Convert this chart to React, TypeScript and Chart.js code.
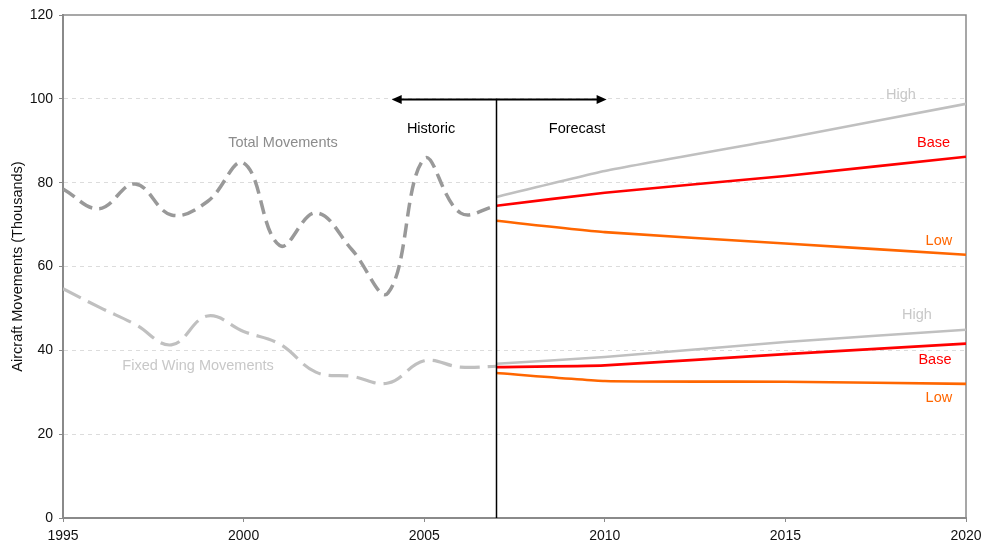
import React, { useEffect, useRef } from "react";
import { Chart, registerables } from "chart.js";

Chart.register(...registerables);

// Historic annual movements (thousands)
const historicYears = [1995, 1996, 1997, 1998, 1999, 2000, 2001, 2002, 2003, 2004, 2005, 2006, 2007];
const totalMovements = [78.5, 73.8, 79.7, 72.3, 75.5, 84.7, 65.0, 72.8, 64.0, 53.7, 85.7, 72.8, 74.5];
const fixedWingMovements = [54.7, 50.3, 46.2, 41.3, 48.2, 44.5, 41.5, 34.8, 33.8, 32.2, 37.5, 36.0, 36.2];

// Forecast scenarios
const forecastYears = [2007, 2010, 2015, 2020];
const totalHigh = [76.6, 82.8, 90.6, 98.8];
const totalBase = [74.5, 77.6, 81.6, 86.2];
const totalLow = [70.9, 68.2, 65.5, 62.8];
const fixedHigh = [36.8, 38.4, 42.0, 44.9];
const fixedBase = [36.0, 36.4, 39.1, 41.6];
const fixedLow = [34.6, 32.7, 32.5, 32.0];

const yTicks = [0, 20, 40, 60, 80, 100, 120];
const xTicks = [1995, 2000, 2005, 2010, 2015, 2020];
const splitYear = 2007;

const FONT = "'Liberation Sans', Arial, sans-serif";
const GREY_DARK = "#999999";
const GREY_LIGHT = "#c0c0c0";
const RED = "#ff0000";
const ORANGE = "#ff6600";

const pts = (xs: number[], ys: number[]) => xs.map((x, i) => ({ x, y: ys[i] }));

// Free text labels placed in data coordinates
const textLabels = [
  { text: "Total Movements", x: 2001.09, y: 89.5, color: "#8c8c8c" },
  { text: "Fixed Wing Movements", x: 1998.74, y: 36.3, color: "#c8c8c8" },
  { text: "Historic", x: 2005.19, y: 92.8, color: "#000000" },
  { text: "Forecast", x: 2009.23, y: 92.8, color: "#000000" },
  { text: "High", x: 2018.2, y: 101, color: "#c8c8c8" },
  { text: "Base", x: 2019.1, y: 89.5, color: RED },
  { text: "Low", x: 2019.25, y: 66.1, color: ORANGE },
  { text: "High", x: 2018.64, y: 48.4, color: "#c8c8c8" },
  { text: "Base", x: 2019.14, y: 37.7, color: RED },
  { text: "Low", x: 2019.25, y: 28.6, color: ORANGE },
];

const overlayPlugin = {
  id: "overlay",
  beforeDatasetsDraw(chart: any) {
    const { ctx, chartArea } = chart;
    ctx.save();
    // frame around plot area (top and right)
    ctx.strokeStyle = "#8a8a8a";
    ctx.lineWidth = 1.5;
    ctx.beginPath();
    ctx.moveTo(chartArea.left, chartArea.top);
    ctx.lineTo(chartArea.right, chartArea.top);
    ctx.lineTo(chartArea.right, chartArea.bottom);
    ctx.stroke();
    ctx.restore();
  },
  afterDatasetsDraw(chart: any) {
    const { ctx, scales } = chart;
    const x = scales.x;
    const y = scales.y;
    ctx.save();
    // historic / forecast divider
    const sx = Math.round(x.getPixelForValue(splitYear)) + 0.5;
    const y100 = y.getPixelForValue(100);
    ctx.strokeStyle = "#000";
    ctx.lineWidth = 1.5;
    ctx.beginPath();
    ctx.moveTo(sx, y100);
    ctx.lineTo(sx, y.getPixelForValue(0));
    ctx.stroke();

    // double-headed arrow
    const ax1 = x.getPixelForValue(2004.1);
    const ax2 = x.getPixelForValue(2010.05);
    const ay = Math.round(y100) + 0.5;
    ctx.lineWidth = 2;
    ctx.beginPath();
    ctx.moveTo(ax1 + 6, ay);
    ctx.lineTo(ax2 - 6, ay);
    ctx.stroke();
    ctx.fillStyle = "#000";
    ctx.beginPath();
    ctx.moveTo(ax1, ay);
    ctx.lineTo(ax1 + 10, ay - 4.5);
    ctx.lineTo(ax1 + 10, ay + 4.5);
    ctx.closePath();
    ctx.fill();
    ctx.beginPath();
    ctx.moveTo(ax2, ay);
    ctx.lineTo(ax2 - 10, ay - 4.5);
    ctx.lineTo(ax2 - 10, ay + 4.5);
    ctx.closePath();
    ctx.fill();

    // text labels
    ctx.font = `14.5px ${FONT}`;
    ctx.textAlign = "center";
    ctx.textBaseline = "middle";
    for (const l of textLabels) {
      ctx.fillStyle = l.color;
      ctx.fillText(l.text, x.getPixelForValue(l.x), y.getPixelForValue(l.y));
    }
    ctx.restore();
  },
};

export default function App() {
  const canvasRef = useRef<HTMLCanvasElement | null>(null);

  useEffect(() => {
    document.body.style.margin = "0";
    const canvas = canvasRef.current;
    if (!canvas) return;

    const solid = (label: string, data: number[], color: string) => ({
      label,
      data: pts(forecastYears, data),
      borderColor: color,
      borderWidth: 2.6,
      pointRadius: 0,
      tension: 0.15,
      fill: false,
    });

    const chart = new Chart(canvas, {
      type: "line",
      data: {
        datasets: [
          {
            label: "Total Movements",
            data: pts(historicYears, totalMovements),
            borderColor: GREY_DARK,
            borderWidth: 3.5,
            borderDash: [14, 7],
            pointRadius: 0,
            tension: 0.4,
            fill: false,
          },
          {
            label: "Fixed Wing Movements",
            data: pts(historicYears, fixedWingMovements),
            borderColor: GREY_LIGHT,
            borderWidth: 3.2,
            borderDash: [20, 8],
            pointRadius: 0,
            tension: 0.4,
            fill: false,
          },
          solid("Total High", totalHigh, GREY_LIGHT),
          solid("Total Base", totalBase, RED),
          solid("Total Low", totalLow, ORANGE),
          solid("Fixed Wing High", fixedHigh, GREY_LIGHT),
          solid("Fixed Wing Base", fixedBase, RED),
          solid("Fixed Wing Low", fixedLow, ORANGE),
        ],
      },
      options: {
        responsive: false,
        animation: false,
        layout: { padding: { top: 15, right: 17, left: 0, bottom: 0 } },
        plugins: {
          legend: { display: false },
          tooltip: { enabled: false },
        },
        scales: {
          x: {
            type: "linear",
            min: 1995,
            max: 2020,
            afterBuildTicks: (scale: any) => {
              scale.ticks = xTicks.map((v) => ({ value: v }));
            },
            afterFit: (scale: any) => {
              scale.height = 26;
              scale.paddingLeft = 0;
              scale.paddingRight = 0;
            },
            ticks: {
              color: "#111",
              font: { family: FONT, size: 14 },
              padding: 6,
              maxRotation: 0,
              autoSkip: false,
              callback: (v: any) => String(v),
            },
            grid: {
              drawOnChartArea: false,
              drawTicks: true,
              tickLength: 4,
              tickColor: "#8a8a8a",
              tickWidth: 1,
            },
            border: { color: "#8a8a8a", width: 2 },
          },
          y: {
            min: 0,
            max: 120,
            afterBuildTicks: (scale: any) => {
              scale.ticks = yTicks.map((v) => ({ value: v }));
            },
            afterFit: (scale: any) => {
              scale.width = 63;
              scale.paddingTop = 0;
              scale.paddingBottom = 0;
            },
            title: {
              display: true,
              text: "Aircraft Movements (Thousands)",
              color: "#111",
              font: { family: FONT, size: 14.5 },
              padding: { top: 9, bottom: 0 },
            },
            ticks: {
              color: "#111",
              font: { family: FONT, size: 14 },
              padding: 6,
            },
            grid: {
              color: (c: any) => (c.tick && (c.tick.value === 0 || c.tick.value === 120) ? "rgba(0,0,0,0)" : "#dcdcdc"),
              lineWidth: 1,
              drawTicks: true,
              tickLength: 4,
              tickColor: "#8a8a8a",
              tickBorderDash: [],
            },
            border: { color: "#8a8a8a", width: 2, dash: [4, 4] },
          },
        },
      },
      plugins: [overlayPlugin],
    } as any);

    return () => chart.destroy();
  }, []);

  return <canvas ref={canvasRef} width={983} height={544} style={{ display: "block" }} />;
}
